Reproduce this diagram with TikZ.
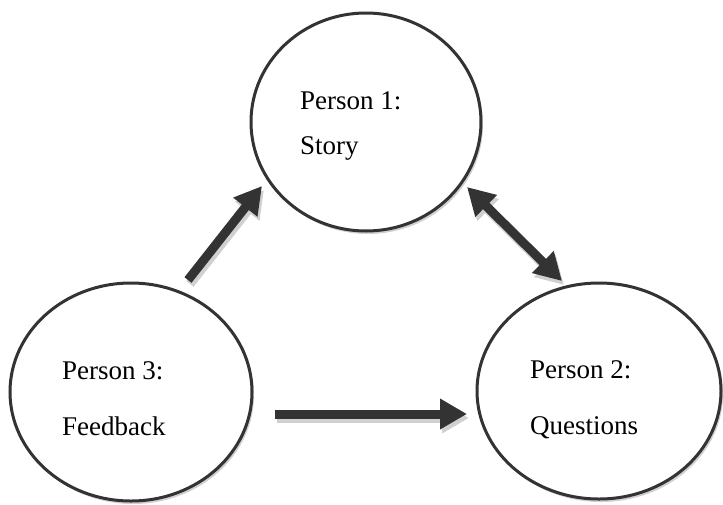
\documentclass[tikz,border=0pt]{standalone}
\usepackage{fontspec}
\setmainfont{Liberation Serif}
\usetikzlibrary{arrows.meta,shadows,shapes.geometric}
\definecolor{ink}{HTML}{333333}
\definecolor{shade}{HTML}{D0D0D0}
\tikzset{
  person/.style={ellipse, draw=ink, line width=3pt, fill=white,
    drop shadow={shadow xshift=2pt, shadow yshift=-3pt, fill=shade, opacity=1}},
  txt/.style={anchor=base west, inner sep=0pt, font=\fontsize{27}{30}\selectfont},
  blk/.style={draw=ink, line width=9pt, -{Triangle[length=27pt,width=29pt]}},
  blkboth/.style={draw=ink, line width=9pt, {Triangle[length=27pt,width=29pt]}-{Triangle[length=27pt,width=29pt]}},
  blkshade/.style={draw=shade, transform canvas={shift={(2pt,-4pt)}}}
}
\begin{document}
\begin{tikzpicture}[x=1pt,y=-1pt]
\useasboundingbox (0,0) rectangle (723,504);
\node[person, minimum width=230pt, minimum height=218pt] (p1) at (366,122) {};
\node[person, minimum width=242pt, minimum height=218pt] (p3) at (131,392) {};
\node[person, minimum width=244pt, minimum height=216pt] (p2) at (599,391) {};
\node[txt] (t1a) at (300,109) {Person 1:};
\node[txt] (t1b) at (300,154) {Story};
\node[txt] (t3a) at (62,379) {Person 3:};
\node[txt] (t3b) at (62,435) {Feedback};
\node[txt] (t2a) at (530,378) {Person 2:};
\node[txt] (t2b) at (530,434) {Questions};
\coordinate (a1s) at (188,280);
\coordinate (a1e) at (262,186);
\coordinate (a2s) at (275,414);
\coordinate (a2e) at (467,414);
\coordinate (a3s) at (467,187);
\coordinate (a3e) at (562,281);
\draw[blk, blkshade] (a1s) -- (a1e);
\draw[blk, blkshade] (a2s) -- (a2e);
\draw[blkboth, blkshade] (a3s) -- (a3e);
\draw[blk] (a1s) -- (a1e);
\draw[blk] (a2s) -- (a2e);
\draw[blkboth] (a3s) -- (a3e);
\end{tikzpicture}
\end{document}
